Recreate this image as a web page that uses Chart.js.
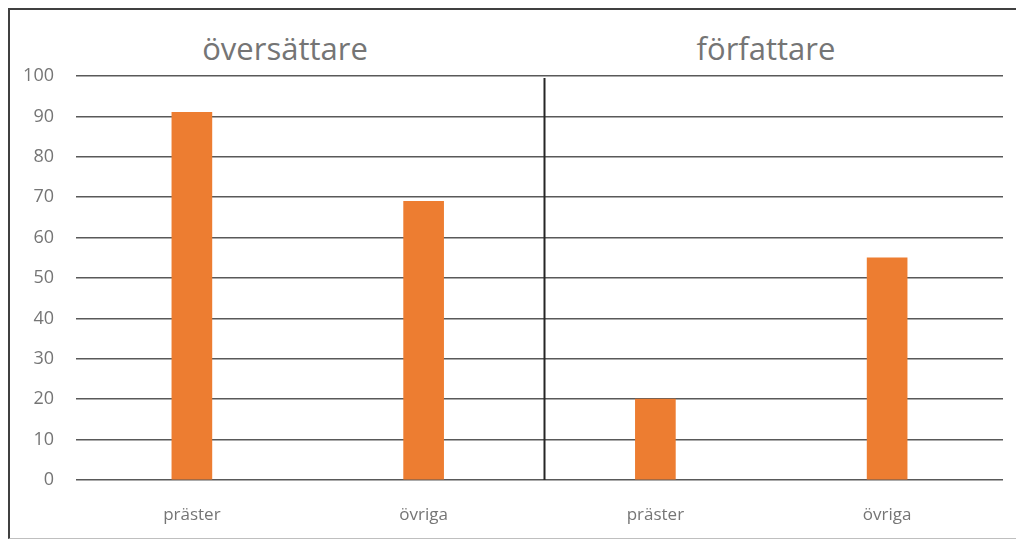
<!DOCTYPE html>
<html>
<head>
<meta charset="utf-8">
<script src="https://cdn.jsdelivr.net/npm/chart.js@4"></script>
<style>
  html, body { margin: 0; padding: 0; background: #fff; }
  .wrap { position: relative; width: 1016px; height: 539px; overflow: hidden; }
  .frame {
    position: absolute; left: 8px; top: 8px; width: 1020px; height: 528px;
    border-top: 2px solid #404040; border-left: 2px solid #404040;
    border-bottom: 1px solid #bfbfbf;
  }
  .group {
    position: absolute; top: 33px; font-family: "Open Sans", sans-serif; font-size: 31px;
    line-height: 31px; color: #757575; transform: translateX(-50%); white-space: nowrap;
  }
  canvas { position: absolute; left: 0; top: 0; }
</style>
</head>
<body>
<div class="wrap">
  <div class="frame"></div>
  <div class="group" style="left:285px">översättare</div>
  <div class="group" style="left:766px">författare</div>
  <canvas id="chart" width="1016" height="539"></canvas>
</div>
<script>
// data
const categories = ['präster', 'övriga', 'präster', 'övriga'];
const groups = ['översättare', 'författare'];
const values = [91, 69, 20, 55];
const yTicks = [0, 10, 20, 30, 40, 50, 60, 70, 80, 90, 100];

// vertical line between the two groups
const dividerPlugin = {
    id: 'divider',
    afterDatasetsDraw(chart) {
        const x = chart.scales.x;
        const area = chart.chartArea;
        const px = (x.getPixelForValue(1) + x.getPixelForValue(2)) / 2 + 5;
        const ctx = chart.ctx;
        ctx.save();
        ctx.strokeStyle = '#262626';
        ctx.lineWidth = 2;
        ctx.beginPath();
        ctx.moveTo(px, area.top + 2);
        ctx.lineTo(px, area.bottom);
        ctx.stroke();
        ctx.restore();
    }
};

new Chart(document.getElementById('chart'), {
    type: 'bar',
    data: {
        labels: categories,
        datasets: [{
            data: values,
            backgroundColor: '#ED7D31',
            barThickness: 40
        }]
    },
    options: {
        responsive: false,
        animation: false,
        layout: { padding: { top: 76, right: 13, left: 10, bottom: 0 } },
        plugins: {
            legend: { display: false },
            tooltip: { enabled: false }
        },
        scales: {
            x: {
                grid: { display: false },
                border: { display: false },
                ticks: {
                    color: '#757575',
                    font: { family: 'Open Sans', size: 17 },
                    padding: 17
                },
                afterFit(scale) { scale.height = 59; }
            },
            y: {
                min: 0,
                max: 100,
                afterBuildTicks(scale) { scale.ticks = yTicks.map(v => ({ value: v })); },
                grid: { color: '#595959', lineWidth: 1.5, drawTicks: false },
                border: { display: false },
                ticks: {
                    color: '#757575',
                    font: { family: 'Open Sans', size: 18 },
                    padding: 22
                },
                afterFit(scale) { scale.width = 66; }
            }
        }
    },
    plugins: [dividerPlugin]
});
</script>
</body>
</html>
